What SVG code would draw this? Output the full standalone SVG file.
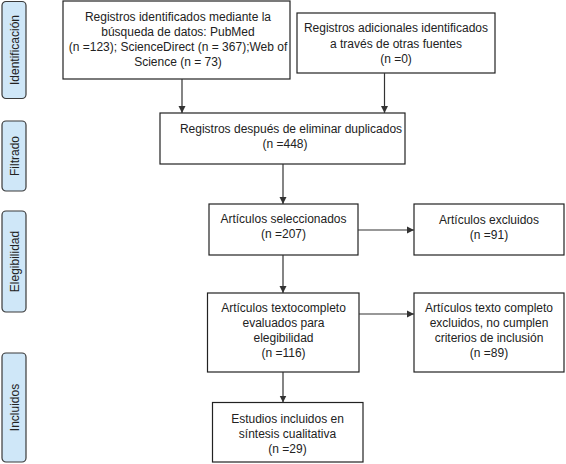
<svg xmlns="http://www.w3.org/2000/svg" width="566" height="464" viewBox="0 0 566 464">
<defs>
<marker id="ah" markerWidth="8" markerHeight="8" refX="7" refY="4" orient="auto" markerUnits="userSpaceOnUse">
<path d="M0,0.5 L7,4 L0,7.5 z" fill="#333"/>
</marker>
<style>
.box{fill:#fff;stroke:#222;stroke-width:1.2}
.side{fill:#cfe7f8;stroke:#3a3a3a;stroke-width:1.2}
.t{font-family:"Liberation Sans",Arial,sans-serif;font-size:12px;fill:#222;text-anchor:middle}
.c{fill:none;stroke:#333;stroke-width:1.2;marker-end:url(#ah)}
</style>
</defs>
<rect width="566" height="464" fill="#fff"/>
<g id="side-identificacion"><rect class="side" x="2" y="1.5" width="24" height="97" rx="4"/><text class="t" transform="translate(18.5,50) rotate(-90)">Identificación</text></g>
<g id="side-filtrado"><rect class="side" x="2" y="121" width="24" height="70" rx="4"/><text class="t" transform="translate(18.5,156) rotate(-90)">Filtrado</text></g>
<g id="side-elegibilidad"><rect class="side" x="2" y="211" width="24" height="101" rx="4"/><text class="t" transform="translate(18.5,261.5) rotate(-90)">Elegibilidad</text></g>
<g id="side-incluidos"><rect class="side" x="2" y="353" width="24" height="109" rx="4"/><text class="t" transform="translate(18.5,407.5) rotate(-90)">Incluidos</text></g>
<g id="n1"><rect class="box" x="63" y="1" width="227" height="78"/>
<text class="t" x="178" y="21">Registros identificados mediante la</text>
<text class="t" x="178" y="36">búsqueda de datos: PubMed</text>
<text class="t" x="178" y="51">(n =123); ScienceDirect (n = 367);Web of</text>
<text class="t" x="178" y="66">Science (n = 73)</text></g>
<g id="n2"><rect class="box" x="297" y="13" width="198" height="60"/>
<text class="t" x="396" y="32">Registros adicionales identificados</text>
<text class="t" x="396" y="48">a través de otras fuentes</text>
<text class="t" x="396" y="63">(n =0)</text></g>
<g id="n3"><rect class="box" x="160" y="113" width="245" height="51"/>
<text class="t" x="291" y="133">Registros después de eliminar duplicados</text>
<text class="t" x="285" y="148">(n =448)</text></g>
<g id="n4"><rect class="box" x="209" y="204" width="149" height="51"/>
<text class="t" x="283.5" y="223">Artículos seleccionados</text>
<text class="t" x="283.5" y="238">(n =207)</text></g>
<g id="n5"><rect class="box" x="414" y="204" width="150" height="51"/>
<text class="t" x="489" y="224">Artículos excluidos</text>
<text class="t" x="489" y="239">(n =91)</text></g>
<g id="n6"><rect class="box" x="207.5" y="293" width="151.5" height="79"/>
<text class="t" x="283.5" y="312">Artículos textocompleto</text>
<text class="t" x="283.5" y="327">evaluados para</text>
<text class="t" x="283.5" y="342">elegibilidad</text>
<text class="t" x="283.5" y="357">(n =116)</text></g>
<g id="n7"><rect class="box" x="414" y="293" width="150" height="79"/>
<text class="t" x="489" y="312">Artículos texto completo</text>
<text class="t" x="489" y="327">excluidos, no cumplen</text>
<text class="t" x="489" y="342">criterios de inclusión</text>
<text class="t" x="489" y="357">(n =89)</text></g>
<g id="n8"><rect class="box" x="212.5" y="402.5" width="150.5" height="59.5"/>
<text class="t" x="287.5" y="423">Estudios incluidos en</text>
<text class="t" x="287.5" y="438">síntesis cualitativa</text>
<text class="t" x="287.5" y="453">(n =29)</text></g>
<g id="connectors">
<path class="c" d="M182,79 V113"/>
<path class="c" d="M384.5,73 V113"/>
<path class="c" d="M283,164 V204"/>
<path class="c" d="M358,230 H414"/>
<path class="c" d="M283,255 V293"/>
<path class="c" d="M359,314 H414"/>
<path class="c" d="M283,372 V402.5"/>
</g>
</svg>
